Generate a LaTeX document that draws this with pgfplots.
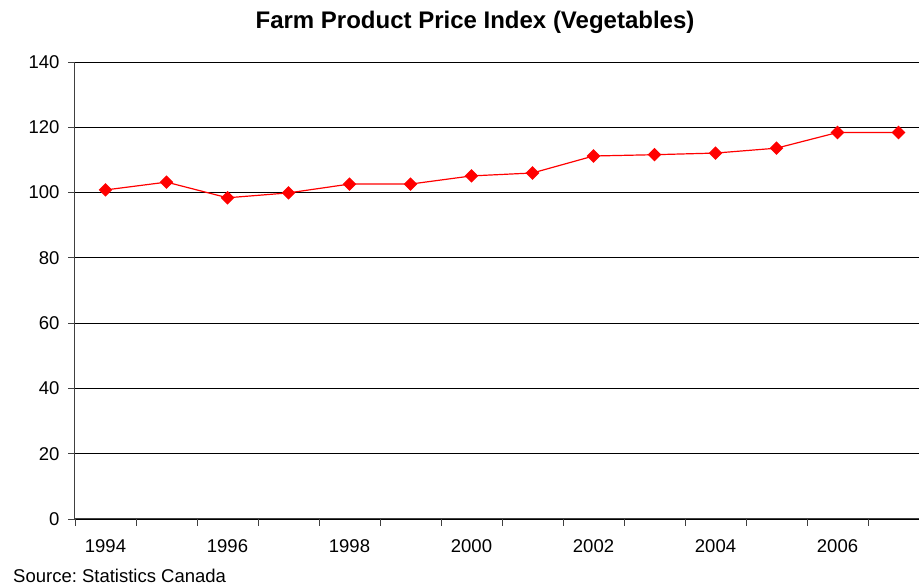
\documentclass[border=0pt]{standalone}
\usepackage{pgfplots}
\pgfplotsset{compat=1.18}
\usepackage{fontspec}
\setmainfont{Liberation Sans}
\frenchspacing
\begin{document}
\begin{tikzpicture}[x=1pt,y=1pt]
\useasboundingbox (0,0) rectangle (919,586);
\begin{axis}[
  at={(75pt,67pt)}, anchor=south west,
  scale only axis, width=844pt, height=457pt,
  xmin=-0.5, xmax=13.336, ymin=0, ymax=140,
  axis x line*=bottom, axis y line*=left,
  axis line style={draw=black!75, line width=1pt},
  xtick={0,2,4,6,8,10,12},
  xticklabels={1994,1996,1998,2000,2002,2004,2006},
  minor xtick={-0.5,0.5,...,12.5},
  major x tick style={draw=none},
  minor x tick style={draw=black!75, line width=0.8pt},
  ytick={0,20,...,140},
  y tick style={draw=black!75, line width=0.8pt},
  tick align=outside,
  major tick length=7pt, minor tick length=7pt,
  ymajorgrids, grid style={black, line width=0.8pt},
  ticklabel style={font=\fontsize{18.5}{20}\selectfont},
  xticklabel style={yshift=-10pt},
  yticklabel style={xshift=-5pt},
  /pgf/number format/assume math mode=true,
  clip=false,
]
\addplot[red, line width=1.2pt, mark=square*, mark size=4.2pt, mark options={fill=red, draw=red, rotate=45}]
coordinates {
(0,100.8) (1,103.2) (2,98.4) (3,99.9) (4,102.6) (5,102.6) (6,105.1)
(7,106.0) (8,111.2) (9,111.6) (10,112.1) (11,113.6) (12,118.4) (13,118.4)
};
\end{axis}
\node[font=\bfseries\fontsize{24}{26}\selectfont] at (475,564) {Farm Product Price Index (Vegetables)};
\node[font=\fontsize{18.5}{20}\selectfont, anchor=base west, inner sep=0pt] at (13,3) {Source: Statistics Canada};
\end{tikzpicture}
\end{document}
